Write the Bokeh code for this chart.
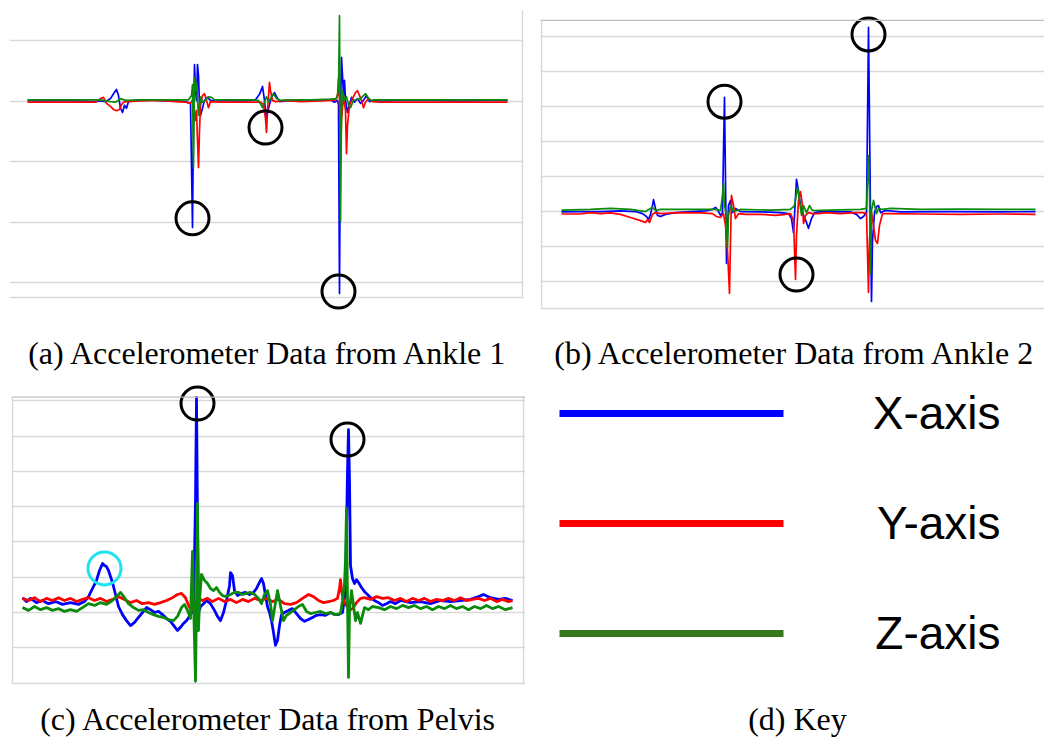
from bokeh.plotting import figure
from bokeh.layouts import column, row
from bokeh.models import Range1d, Grid, FixedTicker, Label, Span
from bokeh.core.properties import value
from bokeh.embed import file_html
from bokeh.resources import INLINE

# ---------------------------------------------------------------------------
# Accelerometer traces as (time [s], acceleration [g]) pairs, one list per axis
# ---------------------------------------------------------------------------
ANKLE1_X = [(0, 0.01), (0.65, 0), (1.65, 0.01), (2.65, 0), (3.4, -0.01), (3.65, 0), (3.9, -0.01),
            (4.15, 0.04), (4.3, 0.12), (4.45, 0.19), (4.55, 0.09), (4.65, -0.12), (4.75, -0.19),
            (4.85, -0.07), (4.95, -0.12), (5.05, -0.01), (5.4, 0.01), (6.15, 0.02), (6.9, 0),
            (7.4, 0.01), (8.0, -0.02), (8.15, -0.04), (8.25, -2.09), (8.3, -0.32), (8.35, 0.60),
            (8.4, 0.17), (8.45, 0.01), (8.5, 0.60), (8.55, 0.42), (8.6, -0.07), (8.65, -0.24),
            (8.75, -0.12), (8.85, 0.01), (9.0, 0.06), (9.15, 0.01), (9.4, 0), (9.9, 0.01), (10.65, 0),
            (11.15, 0.01), (11.4, 0.02), (11.6, 0.11), (11.75, 0.24), (11.85, 0.01), (11.95, -0.32),
            (12.0, -0.19), (12.1, -0.06), (12.2, 0.06), (12.35, 0.14), (12.45, 0.07), (12.6, -0.01),
            (12.9, 0), (13.65, 0.01), (14.4, 0.02), (14.9, 0.02), (15.15, 0.02), (15.35, -0.02),
            (15.5, 0.01), (15.55, -0.06), (15.6, -3.18), (15.65, -0.16), (15.7, 0.72), (15.75, 0.42),
            (15.8, 0.09), (15.85, 0.34), (15.9, 0.01), (16.0, -0.19), (16.1, -0.06), (16.2, 0.06),
            (16.35, -0.02), (16.5, 0.04), (16.65, -0.04), (16.8, 0.01), (16.95, 0.09), (17.1, -0.01),
            (17.3, 0.01), (17.65, 0), (18.65, 0.01), (20.15, 0.01), (21.65, 0), (23.15, 0.01), (24.0, 0.01)]
ANKLE1_Y = [(0, -0.02), (1.15, -0.02), (2.65, -0.02), (3.4, -0.02), (3.65, 0.04), (3.8, 0.06),
            (3.95, -0.04), (4.15, -0.09), (4.3, -0.14), (4.45, -0.16), (4.6, -0.14), (4.7, -0.06),
            (4.8, -0.02), (4.95, -0.01), (5.65, 0), (6.65, 0.01), (7.4, -0.01), (7.9, -0.02),
            (8.15, -0.04), (8.25, 0.02), (8.3, 0.06), (8.35, -0.19), (8.4, -0.32), (8.45, -0.16),
            (8.5, -0.65), (8.55, -1.10), (8.6, -0.49), (8.65, -0.07), (8.75, 0.09), (8.85, 0.12),
            (8.95, 0.01), (9.05, -0.11), (9.15, -0.01), (9.65, -0.02), (10.65, -0.02), (11.65, -0.02),
            (11.8, -0.06), (11.9, -0.29), (11.95, -0.52), (12.0, -0.16), (12.1, 0.31), (12.15, 0.17),
            (12.25, 0.01), (12.4, -0.01), (12.9, 0.01), (13.65, -0.01), (14.65, 0), (15.15, 0.01),
            (15.4, 0.02), (15.5, 0.09), (15.55, 0.37), (15.6, 0.01), (15.65, -0.98), (15.7, -0.32),
            (15.8, 0.09), (15.9, -0.16), (15.95, -0.87), (16.0, -0.40), (16.1, -0.07), (16.25, 0.04),
            (16.4, 0.14), (16.5, 0.17), (16.6, 0.09), (16.7, 0.01), (16.8, -0.11), (16.9, -0.02),
            (17.05, 0.04), (17.25, -0.01), (17.65, -0.02), (19.15, -0.02), (20.65, -0.02),
            (22.15, -0.02), (24.0, -0.02)]
ANKLE1_Z = [(0, 0.02), (1.65, 0.02), (3.15, 0.02), (3.65, 0.02), (4.15, -0.01), (4.4, -0.02),
            (4.65, 0.04), (4.9, 0.01), (5.65, 0.02), (6.65, 0.02), (7.65, 0.02), (8.05, 0.02),
            (8.2, 0.09), (8.25, 0.27), (8.3, -1.10), (8.35, 0.39), (8.4, 0.17), (8.45, 0.31),
            (8.5, 0.01), (8.55, -0.24), (8.65, 0.07), (8.75, -0.02), (8.9, 0.01), (9.05, 0.07),
            (9.2, 0.06), (9.35, 0.02), (10.15, 0.02), (11.15, 0.02), (11.55, 0.01), (11.75, -0.11),
            (11.85, -0.02), (11.95, 0.07), (12.05, -0.01), (12.15, 0.04), (12.3, 0.12), (12.45, 0.04),
            (12.65, 0.01), (13.15, 0.02), (14.15, 0.02), (15.15, 0.03), (15.45, 0.04), (15.55, 0.17),
            (15.6, 1.41), (15.65, -1.99), (15.7, -0.16), (15.75, 0.17), (15.85, 0.01), (15.95, 0.07),
            (16.05, -0.06), (16.15, -0.11), (16.3, 0.01), (16.45, 0.02), (16.65, 0.04), (16.8, 0.09),
            (16.9, 0.12), (17.0, 0.07), (17.15, 0.01), (17.4, 0.02), (17.65, 0.02), (19.65, 0.02),
            (21.65, 0.02), (24.0, 0.02)]

ANKLE2_X = [(0, -0.02), (0.95, -0.01), (1.95, -0.01), (2.95, 0.01), (3.7, -0.01), (4.05, -0.07),
            (4.25, -0.15), (4.35, -0.24), (4.45, -0.09), (4.55, 0.16), (4.6, 0.33), (4.7, 0.08),
            (4.8, -0.12), (4.95, -0.15), (5.2, -0.09), (5.7, -0.04), (6.45, -0.01), (7.2, 0.01),
            (7.55, 0.05), (7.7, 0.11), (7.85, -0.01), (7.95, -0.12), (8.05, -0.04), (8.1, 1.73),
            (8.15, 3.25), (8.2, 0.88), (8.25, -1.49), (8.3, -0.55), (8.35, 0.16), (8.45, 0.31),
            (8.55, -0.04), (8.7, 0.08), (8.95, -0.01), (9.95, -0.02), (10.95, -0.04), (11.35, -0.07),
            (11.5, -0.21), (11.6, -0.61), (11.65, -0.12), (11.75, 0.91), (11.85, 0.59), (11.95, 0.16),
            (12.1, -0.12), (12.25, -0.32), (12.35, -0.49), (12.5, -0.21), (12.65, -0.04), (12.95, -0.01),
            (13.7, -0.02), (14.45, -0.02), (14.75, -0.09), (14.95, -0.21), (15.1, -0.15), (15.25, -0.04),
            (15.35, 5.25), (15.4, 2.59), (15.45, -0.09), (15.5, -2.58), (15.55, -0.84), (15.65, -0.04),
            (15.75, 0.13), (15.85, 0.16), (15.95, -0.04), (16.2, 0.02), (16.95, -0.02), (19.45, -0.01),
            (21.95, -0.02), (23.7, -0.01)]
ANKLE2_Y = [(0, -0.08), (0.95, -0.08), (1.45, -0.04), (1.95, -0.07), (2.45, -0.05), (2.95, -0.09),
            (3.45, -0.18), (3.95, -0.27), (4.2, -0.32), (4.3, -0.24), (4.4, -0.32), (4.55, -0.09),
            (4.7, -0.04), (4.95, -0.07), (5.95, -0.04), (6.95, -0.05), (7.55, -0.07), (7.75, -0.15),
            (7.95, -0.18), (8.1, -0.07), (8.2, -0.41), (8.3, -1.12), (8.4, -2.35), (8.45, -0.84),
            (8.5, 0.45), (8.6, 0.16), (8.7, -0.21), (8.85, -0.07), (9.2, -0.09), (9.95, -0.09),
            (10.7, -0.12), (11.2, -0.09), (11.45, -0.07), (11.6, -0.27), (11.7, -1.95), (11.75, -0.69),
            (11.85, 0.31), (11.95, 0.56), (12.05, 0.16), (12.1, -0.35), (12.2, -0.12), (12.35, -0.04),
            (12.55, -0.07), (12.85, -0.07), (13.2, -0.04), (13.95, -0.07), (14.7, -0.04), (15.05, -0.04),
            (15.25, -0.07), (15.35, -2.32), (15.4, -0.84), (15.5, -0.04), (15.6, -0.41), (15.7, -0.84),
            (15.8, -0.92), (15.9, -0.41), (16.05, -0.07), (16.45, -0.07), (17.95, -0.08), (19.95, -0.09),
            (21.95, -0.08), (23.7, -0.09)]
ANKLE2_Z = [(0, 0.03), (1.45, 0.05), (2.45, 0.08), (3.45, 0.05), (4.2, -0.01), (4.55, 0.11), (4.7, 0.02),
            (4.95, 0.05), (6.45, 0.05), (7.7, 0.05), (7.95, 0.02), (8.05, 0.45), (8.1, 0.82), (8.15, 0.16),
            (8.2, 0.02), (8.3, -1.04), (8.35, -0.12), (8.45, 0.16), (8.6, -0.01), (8.95, 0.05),
            (10.45, 0.03), (11.45, 0.05), (11.65, 0.16), (11.8, 0.68), (11.9, 0.31), (12.0, -0.12),
            (12.1, 0.16), (12.25, -0.04), (12.4, 0.16), (12.55, 0.02), (13.45, 0.03), (14.95, 0.05),
            (15.25, 0.08), (15.35, 1.59), (15.4, 0.59), (15.45, -1.78), (15.5, 0.02), (15.6, 0.31),
            (15.75, -0.07), (15.85, 0.08), (16.05, 0.05), (16.45, 0.08), (17.95, 0.05), (19.95, 0.06),
            (21.95, 0.05), (23.7, 0.05)]

PELVIS_X = [(0, 0.42), (0.2, 0.31), (0.4, 0.40), (0.7, 0.28), (1.0, 0.34), (1.3, 0.25), (1.65, 0.31),
            (2.0, 0.23), (2.4, 0.28), (2.8, 0.23), (3.1, 0.31), (3.3, 0.45), (3.5, 0.68), (3.7, 0.91),
            (3.85, 1.19), (4.0, 1.39), (4.1, 1.33), (4.2, 1.30), (4.3, 1.19), (4.4, 1.02), (4.5, 0.85),
            (4.65, 0.51), (4.8, 0.17), (5.0, -0.06), (5.2, -0.23), (5.4, -0.37), (5.6, -0.28),
            (5.8, -0.14), (6.0, 0), (6.2, 0.14), (6.4, 0.08), (6.6, 0), (6.8, 0.03), (7.0, -0.06),
            (7.2, -0.17), (7.4, -0.25), (7.6, -0.40), (7.75, -0.51), (7.9, -0.42), (8.05, -0.31),
            (8.2, -0.23), (8.35, -0.11), (8.45, 0), (8.55, 0), (8.65, 3.17), (8.7, 6.09), (8.75, 2.61),
            (8.8, 0), (8.9, 0.17), (9.05, 0.25), (9.2, 0.34), (9.4, 0.25), (9.6, 0.06), (9.75, -0.11),
            (9.9, -0.23), (10.05, 0), (10.2, 0.34), (10.35, 0.76), (10.4, 1.13), (10.5, 1.05),
            (10.6, 0.62), (10.75, 0.48), (10.95, 0.54), (11.15, 0.57), (11.35, 0.51), (11.55, 0.57),
            (11.7, 0.68), (11.85, 0.85), (11.95, 0.96), (12.05, 0.82), (12.15, 0.48), (12.25, 0.17),
            (12.35, 0), (12.45, -0.23), (12.55, -0.57), (12.65, -0.93), (12.75, -0.79), (12.85, -0.37),
            (12.95, -0.06), (13.1, 0), (13.3, 0.06), (13.5, 0.11), (13.7, -0.03), (13.9, -0.17),
            (14.1, -0.25), (14.3, -0.20), (14.5, -0.14), (14.7, -0.08), (14.9, -0.06), (15.15, -0.08),
            (15.4, 0), (15.6, -0.06), (15.8, -0.06), (16.0, 0), (16.15, 0.62), (16.25, 4.02),
            (16.3, 5.18), (16.35, 3.74), (16.4, 1.33), (16.5, 0.96), (16.6, 0.82), (16.7, 0.93),
            (16.8, 0.85), (16.95, 0.71), (17.1, 0.59), (17.25, 0.51), (17.4, 0.42), (17.6, 0.34),
            (17.8, 0.28), (18.0, 0.20), (18.2, 0.25), (18.4, 0.31), (18.65, 0.25), (18.9, 0.34),
            (19.4, 0.28), (19.9, 0.31), (20.4, 0.25), (20.9, 0.34), (21.4, 0.31), (21.9, 0.34),
            (22.4, 0.37), (22.8, 0.45), (23.05, 0.51), (23.4, 0.42), (23.8, 0.37), (24.15, 0.40),
            (24.5, 0.34)]
PELVIS_Y = [(0, 0.40), (0.3, 0.34), (0.6, 0.42), (0.9, 0.31), (1.2, 0.40), (1.5, 0.34), (1.8, 0.42),
            (2.1, 0.34), (2.4, 0.40), (2.7, 0.31), (3.0, 0.37), (3.3, 0.42), (3.6, 0.34), (3.9, 0.40),
            (4.2, 0.31), (4.5, 0.37), (4.8, 0.45), (5.1, 0.37), (5.4, 0.28), (5.7, 0.34), (6.0, 0.25),
            (6.3, 0.28), (6.6, 0.23), (6.9, 0.28), (7.2, 0.34), (7.5, 0.42), (7.75, 0.51), (7.95, 0.54),
            (8.15, 0.42), (8.35, 0.14), (8.5, 0.06), (8.65, 0.25), (8.8, 0.40), (9.0, 0.34), (9.25, 0.40),
            (9.5, 0.31), (9.8, 0.40), (10.1, 0.31), (10.4, 0.37), (10.7, 0.28), (11.0, 0.37), (11.3, 0.31),
            (11.6, 0.40), (11.9, 0.34), (12.2, 0.40), (12.5, 0.31), (12.8, 0.37), (13.1, 0.25),
            (13.4, 0.23), (13.7, 0.28), (14.0, 0.40), (14.3, 0.51), (14.55, 0.45), (14.8, 0.34),
            (15.05, 0.28), (15.3, 0.31), (15.55, 0.34), (15.75, 0.40), (15.85, 0.68), (15.9, 0.93),
            (15.95, 0.62), (16.05, 0.34), (16.2, 0.20), (16.35, 0.06), (16.5, 0.11), (16.7, 0.28),
            (16.9, 0.40), (17.1, 0.42), (17.4, 0.37), (17.7, 0.45), (18.0, 0.40), (18.3, 0.42),
            (18.6, 0.34), (18.9, 0.40), (19.2, 0.31), (19.5, 0.40), (19.8, 0.34), (20.1, 0.40),
            (20.4, 0.31), (20.7, 0.37), (21.0, 0.34), (21.3, 0.40), (21.6, 0.34), (21.9, 0.42),
            (22.2, 0.34), (22.5, 0.37), (22.8, 0.40), (23.1, 0.34), (23.4, 0.40), (23.7, 0.31),
            (24.0, 0.37), (24.3, 0.31), (24.5, 0.34)]
PELVIS_Z = [(0, 0.14), (0.3, 0.06), (0.6, 0.17), (0.9, 0.08), (1.2, 0.14), (1.5, 0.06), (1.8, 0.11),
            (2.1, 0.03), (2.4, 0.08), (2.7, 0.03), (3.0, 0.14), (3.3, 0.25), (3.6, 0.20), (3.9, 0.28),
            (4.2, 0.23), (4.5, 0.34), (4.7, 0.45), (4.9, 0.57), (5.1, 0.42), (5.3, 0.25), (5.55, 0.14),
            (5.8, 0.06), (6.05, 0.08), (6.3, 0), (6.55, -0.06), (6.8, -0.11), (7.05, -0.14), (7.3, -0.20),
            (7.55, -0.23), (7.75, -0.11), (7.95, 0.14), (8.1, 0.23), (8.25, 0.06), (8.4, -0.17),
            (8.5, 1.73), (8.55, 0.34), (8.6, -0.79), (8.65, -1.95), (8.7, 0.34), (8.75, 3.09),
            (8.8, -0.51), (8.85, 0.34), (8.95, 1.08), (9.1, 0.91), (9.25, 0.82), (9.4, 0.68),
            (9.55, 0.62), (9.7, 0.71), (9.85, 0.57), (10.0, 0.48), (10.2, 0.45), (10.4, 0.51),
            (10.6, 0.57), (10.8, 0.57), (11.0, 0.51), (11.2, 0.54), (11.4, 0.57), (11.6, 0.51),
            (11.8, 0.40), (11.95, 0.25), (12.1, 0.51), (12.25, 0.62), (12.4, 0.23), (12.5, -0.23),
            (12.6, 0.11), (12.75, 0.62), (12.9, 0.20), (13.05, -0.23), (13.2, -0.08), (13.4, 0),
            (13.6, 0.08), (13.8, 0.17), (14.0, 0.23), (14.2, 0.03), (14.4, -0.03), (14.65, 0),
            (14.9, 0.03), (15.15, -0.03), (15.4, 0), (15.65, -0.06), (15.9, -0.03), (16.0, 0.34),
            (16.1, 0.82), (16.15, 1.47), (16.2, 2.95), (16.25, 0.34), (16.3, -1.84), (16.35, 0.06),
            (16.45, 0.62), (16.55, 0.20), (16.65, -0.23), (16.75, 0), (16.9, -0.31), (17.0, -0.08),
            (17.1, 0.14), (17.3, 0.08), (17.5, 0.17), (17.8, 0.14), (18.1, 0.08), (18.4, 0.17),
            (18.7, 0.11), (19.0, 0.20), (19.3, 0.14), (19.6, 0.20), (19.9, 0.11), (20.2, 0.17),
            (20.5, 0.08), (20.8, 0.17), (21.1, 0.11), (21.4, 0.20), (21.7, 0.11), (22.0, 0.17),
            (22.3, 0.08), (22.6, 0.17), (22.9, 0.11), (23.2, 0.20), (23.5, 0.11), (23.8, 0.17),
            (24.15, 0.08), (24.5, 0.14)]

# Highlighted impacts (time [s], g)
ANKLE1_EVENTS = [(8.25, -1.94), (11.9, -0.44), (15.55, -3.15)]
ANKLE2_EVENTS = [(8.15, 3.13), (11.75, -1.81), (15.35, 5.05)]
PELVIS_EVENTS = [(8.75, 5.92), (16.25, 4.90)]
PELVIS_SWAY = [(4.1, 1.25)]

# Horizontal grid levels (g) and chart-area edges
ANKLE1_LEVELS = [1, 0, -1, -2, -3]
ANKLE1_FLOOR = -3.25
ANKLE2_LEVELS = [5, 4, 3, 2, 1, 0, -1, -2]
ANKLE2_FLOOR, ANKLE2_CEIL = -2.79, 5.45
PELVIS_LEVELS = [6, 5, 4, 3, 2, 1, 0, -1]
PELVIS_FLOOR, PELVIS_CEIL = -2.02, 6.10

CAPTIONS = ["(a) Accelerometer Data from Ankle 1", "(b) Accelerometer Data from Ankle 2",
            "(c) Accelerometer Data from Pelvis", "(d) Key"]
KEY_LABELS = ["X-axis", "Y-axis", "Z-axis"]

BLUE, RED, GREEN = "#0000ff", "#ff0000", "#0b8a0b"
KEY_GREEN = "#38761d"
GRID = "#d9d9d9"
EDGE = "#bfbfbf"
CAPTION_FONT = "Liberation Serif"
CAPTION_SIZE = "32px"


class Panel:
    """A chart cell: t -> x = x0 + sx*t, g -> y = y0 - sy*g (pixels inside the cell)."""

    def __init__(self, w, h, left, right, x0, sx, y0, sy):
        self.x0, self.sx, self.y0, self.sy = x0, sx, y0, sy
        self.fig = figure(width=w, height=h, output_backend="svg", toolbar_location=None,
                          x_axis_type=None, y_axis_type=None,
                          min_border_left=left, min_border_right=right,
                          min_border_top=0, min_border_bottom=0,
                          x_range=Range1d((left - x0) / sx, (w - right - x0) / sx),
                          y_range=Range1d((y0 - h) / sy, y0 / sy))
        self.fig.outline_line_color = None
        self.fig.background_fill_color = "white"
        self.fig.border_fill_color = "white"

    def t(self, px):
        return (px - self.x0) / self.sx

    def g(self, py):
        return (self.y0 - py) / self.sy


def unzip(pairs):
    return [a for a, _ in pairs], [b for _, b in pairs]


def draw_panel(panel, levels, floor, traces, width, events, caption, cap_x, cap_y):
    p = panel.fig
    p.add_layout(Grid(dimension=1, ticker=FixedTicker(ticks=levels + [floor]),
                      grid_line_color=GRID, grid_line_width=1.6))
    for data, color in zip(traces, (BLUE, RED, GREEN)):
        xs, ys = unzip(data)
        p.line(xs, ys, line_color=color, line_width=width, line_join="round")
    ex, ey = unzip(events)
    p.scatter(ex, ey, marker="circle", size=33, fill_color=None,
              line_color="black", line_width=3)
    p.add_layout(Label(x=panel.t(cap_x), y=panel.g(cap_y), text=caption,
                       text_align="center", text_baseline="middle",
                       text_font=CAPTION_FONT, text_font_size=CAPTION_SIZE,
                       text_color="black"))
    return p


# (a) ankle 1
pa = Panel(530, 380, 9, 7, 27, 20, 100.5, 60.5)
draw_panel(pa, ANKLE1_LEVELS, ANKLE1_FLOOR, (ANKLE1_X, ANKLE1_Y, ANKLE1_Z), 1.7,
           ANKLE1_EVENTS, CAPTIONS[0], 268, 352)
pa.fig.segment(x0=[pa.t(522)], y0=[pa.g(10)], x1=[pa.t(522)], y1=[ANKLE1_FLOOR],
               line_color=GRID, line_width=1.5)

# (b) ankle 2
pb = Panel(514, 380, 10, 0, 31, 20, 210.7, 35.0)
draw_panel(pb, ANKLE2_LEVELS, ANKLE2_FLOOR, (ANKLE2_X, ANKLE2_Y, ANKLE2_Z), 1.7,
           ANKLE2_EVENTS, CAPTIONS[1], 265, 352)
pb.fig.add_layout(Span(location=ANKLE2_CEIL, dimension="width", line_color=EDGE, line_width=1.2))
pb.fig.segment(x0=[pb.t(11)], y0=[ANKLE2_CEIL], x1=[pb.t(11)], y1=[ANKLE2_FLOOR],
               line_color=GRID, line_width=1.5)

# (c) pelvis
pc = Panel(530, 358, 11, 5, 22, 20, 232.0, 35.3)
draw_panel(pc, PELVIS_LEVELS, PELVIS_FLOOR, (PELVIS_X, PELVIS_Y, PELVIS_Z), 2.8,
           PELVIS_EVENTS, CAPTIONS[2], 268, 338)
pc.fig.add_layout(Span(location=PELVIS_CEIL, dimension="width", line_color=EDGE, line_width=1.2))
pc.fig.segment(x0=[pc.t(12), pc.t(523)], y0=[PELVIS_CEIL, PELVIS_CEIL],
               x1=[pc.t(12), pc.t(523)], y1=[PELVIS_FLOOR, PELVIS_FLOOR],
               line_color=GRID, line_width=1.5)
sx, sy = unzip(PELVIS_SWAY)
pc.fig.scatter(sx, sy, marker="circle", size=33, fill_color=None,
               line_color="#1ee3ef", line_width=3)

# (d) key
pk = figure(width=514, height=358, output_backend="svg", toolbar_location=None,
            x_axis_type=None, y_axis_type=None, min_border=0,
            x_range=Range1d(0, 514), y_range=Range1d(358, 0))
pk.outline_line_color = None
key_rows = [33, 143, 253]
pk.segment(x0=[29] * 3, y0=key_rows, x1=[253] * 3, y1=key_rows,
           line_color=[BLUE, RED, KEY_GREEN], line_width=7)
pk.text(x=[470] * 3, y=[r - 1 for r in key_rows], text=KEY_LABELS,
        text_align="right", text_baseline="middle",
        text_font=value("Liberation Sans"), text_font_size="46px", text_color="black")
pk.add_layout(Label(x=267, y=338, text=CAPTIONS[3], text_align="center",
                    text_baseline="middle", text_font=CAPTION_FONT,
                    text_font_size=CAPTION_SIZE, text_color="black"))

layout = column(row(pa.fig, pb.fig), row(pc.fig, pk))
open("out.html", "w").write(file_html(layout, INLINE))
